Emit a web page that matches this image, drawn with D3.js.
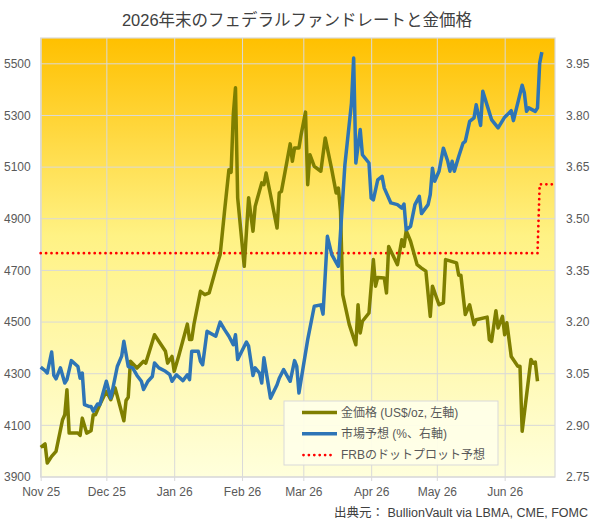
<!DOCTYPE html>
<html>
<head>
<meta charset="utf-8">
<style>
  body { margin: 0; background: #fff; }
  svg { display: block; }
  text { font-family: "Liberation Sans", Arial, "Noto Sans CJK JP", sans-serif; }
</style>
</head>
<body>
<svg></svg>
<script src="https://d3js.org/d3.v7.min.js"></script>
<script>
// 金価格 (US$/oz, left axis)
const goldDates = ["2025-11-01","2025-11-03","2025-11-04","2025-11-06","2025-11-08","2025-11-11","2025-11-12","2025-11-13","2025-11-14","2025-11-18","2025-11-19","2025-11-20","2025-11-22","2025-11-24","2025-11-25","2025-11-26","2025-11-28",
  "2025-12-01","2025-12-03","2025-12-05","2025-12-09","2025-12-10","2025-12-11","2025-12-12","2025-12-15","2025-12-18","2025-12-19","2025-12-23","2025-12-28","2025-12-29","2025-12-31",
  "2026-01-01","2026-01-03","2026-01-07","2026-01-08","2026-01-09","2026-01-10","2026-01-13","2026-01-15","2026-01-17","2026-01-21","2026-01-22","2026-01-24","2026-01-26","2026-01-27","2026-01-28","2026-01-29","2026-01-30",
  "2026-02-02","2026-02-04","2026-02-06","2026-02-07","2026-02-10","2026-02-11","2026-02-12","2026-02-14","2026-02-17","2026-02-18","2026-02-19","2026-02-23","2026-02-24","2026-02-25","2026-02-27","2026-02-28",
  "2026-03-02","2026-03-03","2026-03-04","2026-03-06","2026-03-09","2026-03-11","2026-03-14","2026-03-16","2026-03-17","2026-03-18","2026-03-19","2026-03-22","2026-03-25","2026-03-26","2026-03-27","2026-03-28","2026-03-31",
  "2026-04-02","2026-04-03","2026-04-04","2026-04-07","2026-04-08","2026-04-09","2026-04-13","2026-04-15","2026-04-16","2026-04-17","2026-04-19","2026-04-22","2026-04-24","2026-04-26","2026-04-28","2026-04-29",
  "2026-05-02","2026-05-04","2026-05-05","2026-05-10","2026-05-11","2026-05-12","2026-05-14","2026-05-16","2026-05-18","2026-05-19","2026-05-24","2026-05-25","2026-05-26","2026-05-28","2026-05-29","2026-05-31",
  "2026-06-01","2026-06-02","2026-06-04","2026-06-07","2026-06-08","2026-06-09","2026-06-13","2026-06-14","2026-06-15","2026-06-16"];
const goldPrice = [4015,4028,3954,3980,3999,4122,4141,4238,4070,4070,4061,4128,4070,4079,4141,4141,4180,
  4232,4199,4245,4118,4196,4209,4348,4322,4348,4341,4451,4387,4341,4367,
  4309,4367,4492,4432,4432,4490,4619,4606,4613,4735,4761,4929,5090,5080,5303,5407,4981,
  4716,4981,4852,4948,5039,5032,5077,4993,4864,5000,5006,5190,5123,5174,5174,5226,
  5313,5032,5148,5103,5084,5213,5090,5000,5019,4929,4606,4490,4412,4567,4458,4503,4535,
  4742,4639,4673,4671,4613,4793,4722,4819,4793,4854,4813,4722,4709,4697,4522,4639,
  4567,4574,4742,4729,4681,4681,4529,4567,4490,4509,4519,4432,4425,4544,4477,4522,
  4451,4497,4367,4329,4329,4077,4355,4341,4345,4271];

// 市場予想 (%, right axis)
const rateDates = ["2025-11-01","2025-11-03","2025-11-04","2025-11-06","2025-11-07","2025-11-08","2025-11-10","2025-11-12","2025-11-13","2025-11-15","2025-11-18","2025-11-19","2025-11-20","2025-11-21","2025-11-23","2025-11-24","2025-11-25","2025-11-27","2025-11-28",
  "2025-12-01","2025-12-03","2025-12-04","2025-12-06","2025-12-08","2025-12-09","2025-12-11","2025-12-13","2025-12-15","2025-12-17","2025-12-18","2025-12-20","2025-12-22","2025-12-23","2025-12-25","2025-12-28","2025-12-30","2025-12-31",
  "2026-01-02","2026-01-05","2026-01-07","2026-01-08","2026-01-09","2026-01-12","2026-01-13","2026-01-14","2026-01-16","2026-01-20","2026-01-22","2026-01-24","2026-01-26","2026-01-28","2026-01-29","2026-01-30",
  "2026-02-03","2026-02-04","2026-02-06","2026-02-07","2026-02-09","2026-02-10","2026-02-11","2026-02-14","2026-02-17","2026-02-18","2026-02-20","2026-02-23","2026-02-25","2026-02-26","2026-02-27",
  "2026-03-03","2026-03-06","2026-03-09","2026-03-10","2026-03-12","2026-03-14","2026-03-17","2026-03-20","2026-03-23","2026-03-24","2026-03-25","2026-03-27","2026-03-28","2026-03-31",
  "2026-04-01","2026-04-02","2026-04-04","2026-04-06","2026-04-07","2026-04-10","2026-04-13","2026-04-15","2026-04-16","2026-04-17","2026-04-19","2026-04-21","2026-04-23","2026-04-24","2026-04-27","2026-04-28","2026-04-29","2026-04-30",
  "2026-05-02","2026-05-04","2026-05-06","2026-05-07","2026-05-08","2026-05-09","2026-05-11","2026-05-13","2026-05-14","2026-05-16","2026-05-18","2026-05-19","2026-05-21","2026-05-22","2026-05-26","2026-05-29",
  "2026-06-01","2026-06-02","2026-06-04","2026-06-05","2026-06-09","2026-06-10","2026-06-11","2026-06-12","2026-06-15","2026-06-16","2026-06-17","2026-06-18"];
const rateExpect = [3.069,3.059,3.052,3.113,3.045,3.035,3.067,3.023,3.033,3.088,3.071,3.037,3.052,2.960,2.955,2.955,2.941,2.962,2.960,
  3.028,2.979,3.008,3.071,3.101,3.144,3.071,3.067,3.045,3.028,3.004,3.028,3.042,3.081,3.067,3.057,3.047,3.028,
  3.047,3.030,3.047,3.033,3.115,3.115,3.086,3.076,3.173,3.159,3.200,3.178,3.159,3.134,3.163,3.091,
  3.142,3.130,3.045,3.067,3.052,3.023,3.096,2.979,3.018,3.037,3.062,3.028,3.088,3.071,2.994,
  3.149,3.246,3.250,3.223,3.449,3.396,3.362,3.657,3.836,3.967,3.662,3.759,3.686,3.662,
  3.560,3.555,3.613,3.623,3.589,3.546,3.541,3.531,3.543,3.468,3.478,3.541,3.565,3.515,3.541,3.570,3.647,3.609,
  3.638,3.705,3.667,3.638,3.667,3.638,3.681,3.720,3.725,3.783,3.793,3.831,3.771,3.870,3.788,3.764,
  3.795,3.801,3.814,3.785,3.888,3.865,3.812,3.822,3.812,3.822,3.952,3.984];

// FRBのドットプロット予想
const dotDates = ["2025-11-01","2026-06-16","2026-06-17","2026-06-24"];
const dotRate = [3.40,3.40,3.60,3.60];

const monthTicks = ["2025-11-01","2025-12-01","2026-01-01","2026-02-01","2026-03-01","2026-04-01","2026-05-01","2026-06-01"];
const leftTicks = [3900,4100,4300,4500,4700,4900,5100,5300,5500];
const rightTicks = [2.75,2.90,3.05,3.20,3.35,3.50,3.65,3.80,3.95];

const width = 594, height = 524;
const plot = {x0: 40.7, x1: 555, y0: 38, y1: 477};
const parse = d3.timeParse("%Y-%m-%d");
const txt = "#595959", grid = "#D9D9D9";

const svg = d3.select("svg").attr("width", width).attr("height", height);

const x = d3.scaleTime().domain([parse("2025-11-01"), parse("2026-06-24")]).range([plot.x0, plot.x1]);
const yL = d3.scaleLinear().domain([3900, 5600]).range([plot.y1, plot.y0]);
const yR = d3.scaleLinear().domain([2.75, 4.025]).range([plot.y1, plot.y0]);

// background gradient
const grad = svg.append("defs").append("linearGradient")
  .attr("id", "bg").attr("x1", 0).attr("y1", 0).attr("x2", 0).attr("y2", 1);
grad.append("stop").attr("offset", "0%").attr("stop-color", "#FFC000");
grad.append("stop").attr("offset", "45%").attr("stop-color", "#FFF284");
grad.append("stop").attr("offset", "100%").attr("stop-color", "#FFFFDC");

svg.append("rect")
  .attr("x", plot.x0).attr("y", plot.y0)
  .attr("width", plot.x1 - plot.x0).attr("height", plot.y1 - plot.y0)
  .attr("fill", "url(#bg)");

// gridlines
svg.append("g").selectAll("line").data(leftTicks).join("line")
  .attr("x1", plot.x0).attr("x2", plot.x1)
  .attr("y1", d => yL(d)).attr("y2", d => yL(d))
  .attr("stroke", grid).attr("stroke-width", 1);

// x axis (ticks act as vertical gridlines)
const xAxis = svg.append("g")
  .attr("transform", `translate(0,${plot.y1})`)
  .call(d3.axisBottom(x)
    .tickValues(monthTicks.map(parse))
    .tickFormat(d3.timeFormat("%b %y"))
    .tickSizeInner(4).tickSizeOuter(0).tickPadding(6));
xAxis.select(".domain").remove();
xAxis.selectAll(".tick line").attr("y1", -(plot.y1 - plot.y0)).attr("stroke", grid);
xAxis.selectAll("text").attr("fill", txt).style("font-size", "12px");

// plot border
svg.append("rect")
  .attr("x", plot.x0).attr("y", plot.y0)
  .attr("width", plot.x1 - plot.x0).attr("height", plot.y1 - plot.y0)
  .attr("fill", "none").attr("stroke", grid).attr("stroke-width", 1.2);

const leftAxis = svg.append("g")
  .attr("transform", `translate(${plot.x0},0)`)
  .call(d3.axisLeft(yL).tickValues(leftTicks).tickFormat(d3.format("d")).tickSize(0).tickPadding(10));
leftAxis.select(".domain").remove();
leftAxis.selectAll("text").attr("fill", txt).style("font-size", "12px");

const rightAxis = svg.append("g")
  .attr("transform", `translate(${plot.x1},0)`)
  .call(d3.axisRight(yR).tickValues(rightTicks).tickFormat(d3.format(".2f")).tickSize(0).tickPadding(11));
rightAxis.select(".domain").remove();
rightAxis.selectAll("text").attr("fill", txt).style("font-size", "12px");

// series
const dotLine = d3.line().x(d => x(d[0])).y(d => yR(d[1]));
svg.append("path")
  .datum(dotDates.map((d, i) => [parse(d), dotRate[i]]))
  .attr("d", dotLine)
  .attr("fill", "none").attr("stroke", "#FF0000").attr("stroke-width", 2.8)
  .attr("stroke-linecap", "round").attr("stroke-dasharray", "0 5.4");

const goldLine = d3.line().x(d => x(d[0])).y(d => yL(d[1]));
svg.append("path")
  .datum(goldDates.map((d, i) => [parse(d), goldPrice[i]]))
  .attr("d", goldLine)
  .attr("fill", "none").attr("stroke", "#7F7F00").attr("stroke-width", 3.5)
  .attr("stroke-linejoin", "round");

const rateLine = d3.line().x(d => x(d[0])).y(d => yR(d[1]));
svg.append("path")
  .datum(rateDates.map((d, i) => [parse(d), rateExpect[i]]))
  .attr("d", rateLine)
  .attr("fill", "none").attr("stroke", "#2E75B6").attr("stroke-width", 3.5)
  .attr("stroke-linejoin", "round");

// legend
const legend = svg.append("g").attr("transform", "translate(284,401)");
legend.append("rect").attr("width", 214).attr("height", 64)
  .attr("fill", "#FFFFE8").attr("fill-opacity", 0.92).attr("stroke", grid);
const items = [
  {label: "金価格 (US$/oz, 左軸)", color: "#7F7F00", dash: null},
  {label: "市場予想 (%、右軸)", color: "#2E75B6", dash: null},
  {label: "FRBのドットプロット予想", color: "#FF0000", dash: "0 5.4"}
];
items.forEach((it, i) => {
  const yy = 11.5 + i * 21.3;
  const l = legend.append("line").attr("x1", 18).attr("x2", 53).attr("y1", yy).attr("y2", yy)
    .attr("stroke", it.color);
  if (it.dash) l.attr("stroke-width", 2.8).attr("stroke-linecap", "round").attr("stroke-dasharray", it.dash)
    .attr("x1", 19.5).attr("x2", 50);
  else l.attr("stroke-width", 3.5);
  legend.append("text").attr("x", 57).attr("y", yy).attr("dy", "0.35em")
    .attr("fill", txt).style("font-size", "12px").text(it.label);
});

// title and source
svg.append("text").attr("x", width / 2).attr("y", 26).attr("text-anchor", "middle")
  .attr("fill", "#404040").style("font-size", "16.5px")
  .text("2026年末のフェデラルファンドレートと金価格");
svg.append("text").attr("x", 588).attr("y", 517).attr("text-anchor", "end")
  .attr("fill", "#404040").style("font-size", "12.5px")
  .text("出典元： BullionVault via LBMA, CME, FOMC");
</script>
</body>
</html>
